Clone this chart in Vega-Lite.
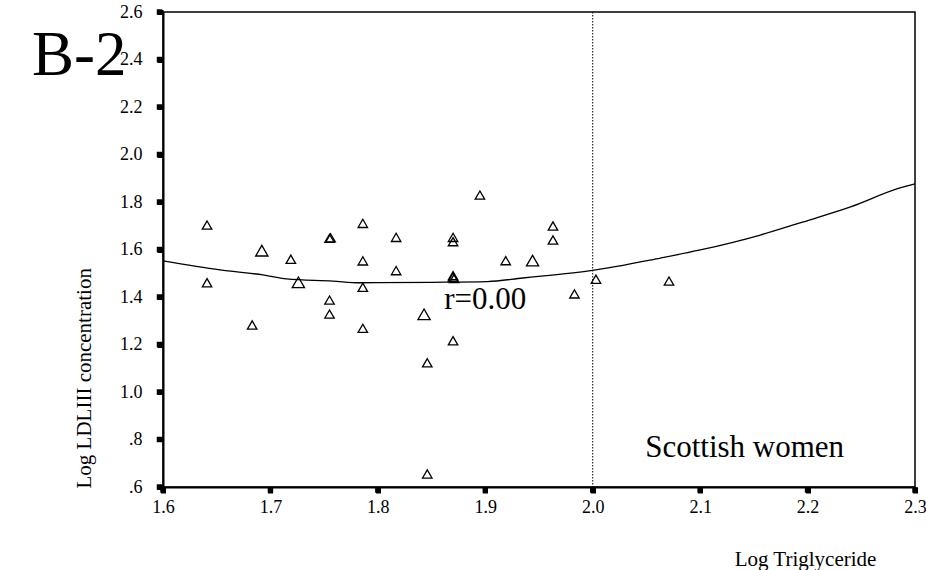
{
  "$schema": "https://vega.github.io/schema/vega-lite/v6.json",
  "width": 752,
  "height": 475,
  "autosize": {"type": "none"},
  "padding": {"left": 163, "top": 12, "right": 11, "bottom": 83},
  "background": "white",
  "config": {
    "view": {"stroke": "#000", "strokeWidth": 1.5},
    "font": "Liberation Serif",
    "axis": {
      "grid": false,
      "domainColor": "#000",
      "domainWidth": 2,
      "tickColor": "#000",
      "tickWidth": 5,
      "tickSize": 6,
      "labelFont": "Liberation Serif",
      "labelFontSize": 18,
      "labelColor": "#000",
      "titleFont": "Liberation Serif",
      "titleFontSize": 21,
      "titleFontWeight": "normal",
      "titleColor": "#000"
    }
  },
  "datasets": {
    "pts": [
      {"tg": 1.641, "ldl": 1.703, "n": 1},
      {"tg": 1.641, "ldl": 1.460, "n": 1},
      {"tg": 1.683, "ldl": 1.282, "n": 1},
      {"tg": 1.692, "ldl": 1.595, "n": 2},
      {"tg": 1.719, "ldl": 1.559, "n": 1},
      {"tg": 1.726, "ldl": 1.462, "n": 2},
      {"tg": 1.755, "ldl": 1.647, "n": 1},
      {"tg": 1.756, "ldl": 1.649, "n": 1},
      {"tg": 1.755, "ldl": 1.387, "n": 1},
      {"tg": 1.755, "ldl": 1.328, "n": 1},
      {"tg": 1.786, "ldl": 1.710, "n": 1},
      {"tg": 1.786, "ldl": 1.552, "n": 1},
      {"tg": 1.786, "ldl": 1.441, "n": 1},
      {"tg": 1.786, "ldl": 1.268, "n": 1},
      {"tg": 1.817, "ldl": 1.651, "n": 1},
      {"tg": 1.817, "ldl": 1.511, "n": 1},
      {"tg": 1.843, "ldl": 1.327, "n": 2},
      {"tg": 1.846, "ldl": 1.123, "n": 1},
      {"tg": 1.846, "ldl": 0.655, "n": 1},
      {"tg": 1.870, "ldl": 1.651, "n": 1},
      {"tg": 1.870, "ldl": 1.633, "n": 1},
      {"tg": 1.870, "ldl": 1.483, "n": 1},
      {"tg": 1.870, "ldl": 1.490, "n": 1},
      {"tg": 1.871, "ldl": 1.478, "n": 1},
      {"tg": 1.870, "ldl": 1.216, "n": 1},
      {"tg": 1.895, "ldl": 1.829, "n": 1},
      {"tg": 1.919, "ldl": 1.553, "n": 1},
      {"tg": 1.944, "ldl": 1.553, "n": 2},
      {"tg": 1.963, "ldl": 1.699, "n": 1},
      {"tg": 1.963, "ldl": 1.640, "n": 1},
      {"tg": 1.983, "ldl": 1.413, "n": 1},
      {"tg": 2.003, "ldl": 1.475, "n": 1},
      {"tg": 2.071, "ldl": 1.467, "n": 1}
    ],
    "fit": [
      {"tg": 1.600, "ldl": 1.552},
      {"tg": 1.653, "ldl": 1.514},
      {"tg": 1.693, "ldl": 1.493},
      {"tg": 1.715, "ldl": 1.476},
      {"tg": 1.758, "ldl": 1.467},
      {"tg": 1.783, "ldl": 1.460},
      {"tg": 1.850, "ldl": 1.462},
      {"tg": 1.902, "ldl": 1.465},
      {"tg": 1.935, "ldl": 1.480},
      {"tg": 1.957, "ldl": 1.490},
      {"tg": 1.998, "ldl": 1.511},
      {"tg": 2.063, "ldl": 1.564},
      {"tg": 2.100, "ldl": 1.598},
      {"tg": 2.156, "ldl": 1.661},
      {"tg": 2.193, "ldl": 1.712},
      {"tg": 2.240, "ldl": 1.779},
      {"tg": 2.286, "ldl": 1.859},
      {"tg": 2.300, "ldl": 1.876}
    ],
    "ref": [{"tg": 2.0}],
    "xticks": [{"tg": 1.6, "ldl": 0.6}, {"tg": 1.7, "ldl": 0.6}, {"tg": 1.8, "ldl": 0.6}, {"tg": 1.9, "ldl": 0.6}, {"tg": 2.0, "ldl": 0.6}, {"tg": 2.1, "ldl": 0.6}, {"tg": 2.2, "ldl": 0.6}, {"tg": 2.3, "ldl": 0.6}],
    "yticks": [{"tg": 1.6, "ldl": 0.6}, {"tg": 1.6, "ldl": 0.8}, {"tg": 1.6, "ldl": 1.0}, {"tg": 1.6, "ldl": 1.2}, {"tg": 1.6, "ldl": 1.4}, {"tg": 1.6, "ldl": 1.6}, {"tg": 1.6, "ldl": 1.8}, {"tg": 1.6, "ldl": 2.0}, {"tg": 1.6, "ldl": 2.2}, {"tg": 1.6, "ldl": 2.4}, {"tg": 1.6, "ldl": 2.6}],
    "notes": [
      {"tg": 1.900, "ldl": 1.349, "label": "r=0.00"},
      {"tg": 2.1414, "ldl": 0.726, "label": "Scottish women"}
    ],
    "panel": [{"tg": 1.478, "ldl": 2.335, "label": "B-2"}]
  },
  "encoding": {
    "x": {
      "field": "tg", "type": "quantitative",
      "scale": {"domain": [1.6, 2.3], "nice": false, "zero": false},
      "axis": {
        "title": "Log Triglyceride",
        "values": [1.6, 1.7, 1.8, 1.9, 2.0, 2.1, 2.2, 2.3],
        "format": ".1f",
        "labelPadding": 5,
        "labelFlush": false,
        "labelOverlap": false,
        "titleX": 642,
        "titleY": 78,
        "titleAnchor": null,
        "titleAlign": "center",
        "titleBaseline": "alphabetic"
      }
    },
    "y": {
      "field": "ldl", "type": "quantitative",
      "scale": {"domain": [0.6, 2.6], "nice": false, "zero": false},
      "axis": {
        "title": "Log LDLIII concentration",
        "values": [0.6, 0.8, 1.0, 1.2, 1.4, 1.6, 1.8, 2.0, 2.2, 2.4, 2.6],
        "labelExpr": "datum.value < 1 ? replace(format(datum.value, '.1f'), '0.', '.') : format(datum.value, '.1f')",
        "labelPadding": 15,
        "labelFlush": false,
        "labelOverlap": false,
        "titleAngle": 270,
        "titleX": -73,
        "titleY": 476,
        "titleAnchor": null,
        "titleAlign": "left",
        "titleBaseline": "alphabetic"
      }
    }
  },
  "layer": [
    {
      "data": {"name": "ref"},
      "mark": {"type": "rule", "color": "#000", "strokeWidth": 1, "strokeDash": [1.5, 1.5]},
      "encoding": {"x": {"field": "tg", "type": "quantitative"}, "y": null}
    },
    {
      "data": {"name": "fit"},
      "mark": {"type": "line", "color": "#000", "strokeWidth": 1.3, "interpolate": "monotone"},
      "encoding": {}
    },
    {
      "data": {"name": "pts"},
      "mark": {"type": "point", "shape": "triangle-up", "filled": false, "stroke": "#000", "strokeWidth": 1.3, "opacity": 1},
      "encoding": {
        "size": {"field": "n", "type": "quantitative", "scale": {"domain": [1, 2], "range": [90, 150]}, "legend": null}
      }
    },
    {
      "data": {"name": "xticks"},
      "mark": {"type": "point", "shape": "square", "filled": true, "color": "#000", "opacity": 1, "size": 30, "yOffset": 3, "clip": false},
      "encoding": {}
    },
    {
      "data": {"name": "yticks"},
      "mark": {"type": "point", "shape": "square", "filled": true, "color": "#000", "opacity": 1, "size": 30, "xOffset": -3.5, "clip": false},
      "encoding": {}
    },
    {
      "data": {"name": "notes"},
      "mark": {"type": "text", "font": "Liberation Serif", "fontSize": 31, "color": "#000", "align": "center", "baseline": "alphabetic"},
      "encoding": {"text": {"field": "label"}}
    },
    {
      "data": {"name": "panel"},
      "mark": {"type": "text", "font": "Liberation Serif", "fontSize": 63, "color": "#000", "align": "left", "baseline": "alphabetic"},
      "encoding": {"text": {"field": "label"}}
    }
  ]
}
